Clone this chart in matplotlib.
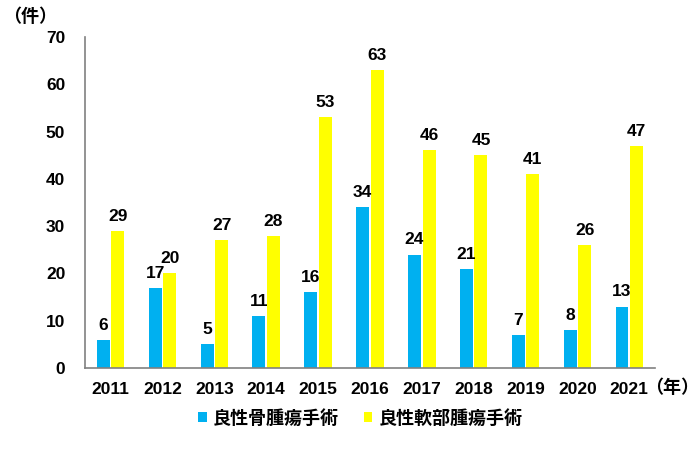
import numpy as np
import matplotlib.pyplot as plt

plt.rcParams['font.family'] = ['Liberation Sans', 'Noto Sans CJK JP', 'DejaVu Sans']

years = ['2011', '2012', '2013', '2014', '2015', '2016', '2017', '2018', '2019', '2020', '2021']
bone = [6, 17, 5, 11, 16, 34, 24, 21, 7, 8, 13]
soft = [29, 20, 27, 28, 53, 63, 46, 45, 41, 26, 47]
labels = ['良性骨腫瘍手術', '良性軟部腫瘍手術']

fig = plt.figure(figsize=(7, 4.5), dpi=100)
ax = fig.add_axes([0.121, 0.182, 0.815, 0.736])

x = np.arange(len(years))
w = 0.25
b1 = ax.bar(x - w / 2 - 0.015, bone, w, color='#00B0F0', label=labels[0])
b2 = ax.bar(x + w / 2 + 0.015, soft, w, color='#FFFF00', label=labels[1])

for bars in (b1, b2):
    for r in bars:
        ax.text(r.get_x() + r.get_width() / 2, r.get_height() + 1.5, str(int(r.get_height())),
                ha='center', va='bottom', fontsize=12.5, fontweight='bold')

ax.set_xlim(-0.5, len(years) - 0.5)
ax.set_ylim(0, 70)
ax.set_yticks(range(0, 71, 10))
ax.set_xticks(x)
ax.set_xticklabels(years)
ax.tick_params(length=0, labelsize=12.5, pad=10)
for lab in ax.get_xticklabels() + ax.get_yticklabels():
    lab.set_fontweight('bold')
ax.tick_params(axis='y', pad=14)

for s in ['top', 'right']:
    ax.spines[s].set_visible(False)
for s in ['left', 'bottom']:
    ax.spines[s].set_color('#808080')
    ax.spines[s].set_linewidth(1.2)

fig.text(0.005, 0.962, '（件）', fontsize=13, fontweight='bold', va='center', ha='left')
fig.text(0.922, 0.138, '（年）', fontsize=13, fontweight='bold', va='center', ha='left')

leg = fig.legend(handles=[b1, b2], loc='center', bbox_to_anchor=(0.515, 0.07), ncol=2,
                 frameon=False, handlelength=0.45, handleheight=0.45, handletextpad=0.35,
                 columnspacing=1.4, prop={'size': 13, 'weight': 'bold'})

fig.savefig('out.png', dpi=100)
